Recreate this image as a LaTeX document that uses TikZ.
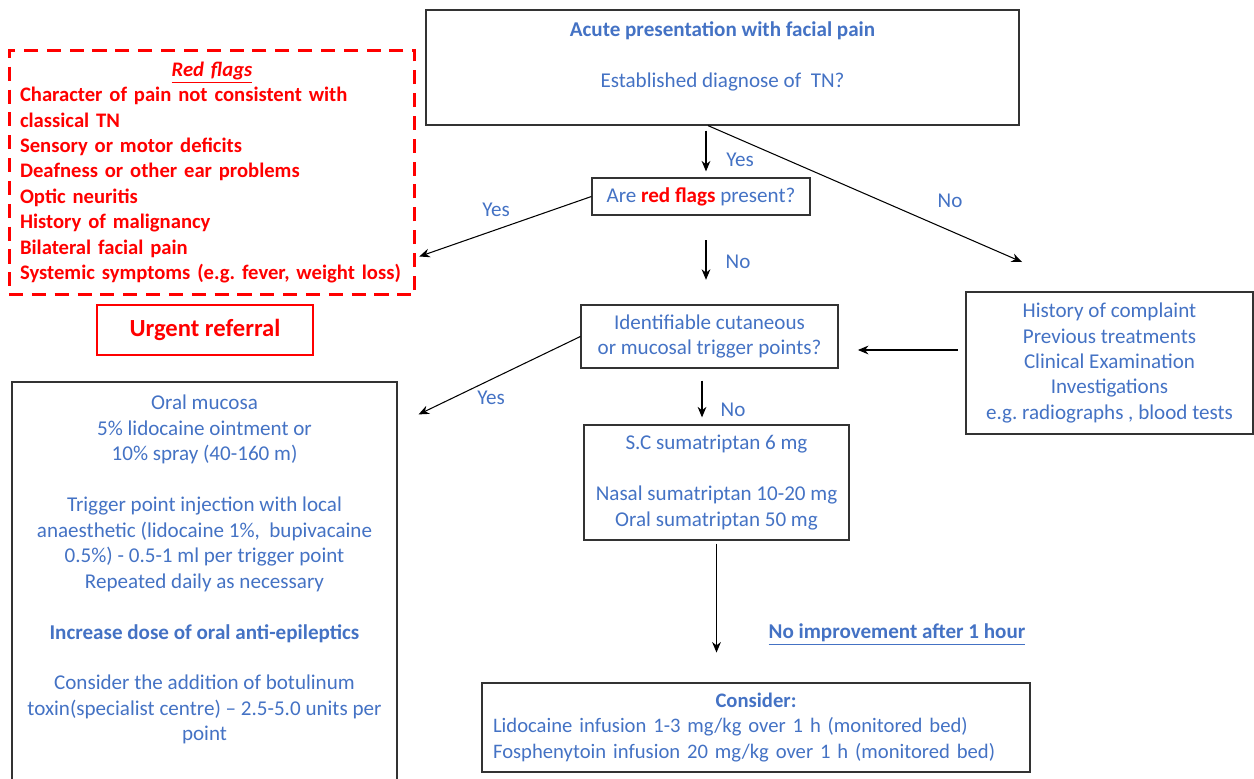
\documentclass[tikz,border=0pt]{standalone}
\usepackage{fontspec}
\setmainfont{Carlito}
\usepackage{xcolor}
\usetikzlibrary{arrows.meta, positioning}
\definecolor{ptblue}{RGB}{68,114,196}
\definecolor{flagred}{RGB}{255,0,0}
\tikzset{
>={Stealth[length=6pt,width=5pt]}, % small filled arrow heads
x=0.02cm, y=-0.02cm, % one unit is one pixel of the drawing, y going down
every node/.style={font=\fontsize{12}{14.5}\selectfont, text=ptblue},
box/.style={draw=black!80, line width=0.7pt, inner sep=0pt, align=center},
flagbox/.style={draw=flagred, line width=1.7pt, dash pattern=on 8pt off 5pt, inner sep=0pt},
arr/.style={->, line width=0.6pt},
lbl/.style={inner sep=0pt},
}

\begin{document}
\frenchspacing
\begin{tikzpicture}
        \useasboundingbox (0,0) rectangle (1254,778);

        % boxes
        \node[box, minimum width=11.86cm, minimum height=2.3cm] (start) at (722.5,67.5)
            {\textbf{Acute presentation with facial pain}\\[14.5pt]Established diagnose of~ TN?\\ \mbox{}};
        \node[flagbox, text width=7.68cm, align=left, minimum width=8.12cm, minimum height=4.9cm,
              text=flagred, font=\fontsize{11.75}{14.5}\selectfont\bfseries] (redflags) at (212,172.5)
            {\makebox[7.68cm][c]{\textit{\underline{Red flags}}}\\
             Character of pain not consistent with\\
             classical TN\\
             Sensory or motor deficits\\
             Deafness or other ear problems\\
             Optic neuritis\\
             History of malignancy\\
             Bilateral facial pain\\
             Systemic symptoms (e.g. fever, weight loss)};
        \node[draw=flagred, line width=0.9pt, inner sep=0pt, minimum width=4.32cm, minimum height=1cm,
              text=flagred, font=\fontsize{14}{17}\selectfont\bfseries] (urgent) at (205,330) {Urgent referral};
        \node[box, minimum width=4.36cm, minimum height=0.74cm] (flagq) at (701,196.5)
            {Are \textcolor{flagred}{\textbf{red flags}} present?};
        \node[box, minimum width=5.14cm, minimum height=1.26cm] (trigger) at (709.5,336.5)
            {Identifiable cutaneous\\or mucosal trigger points?};
        \node[box, minimum width=5.74cm, minimum height=2.84cm] (history) at (1109.5,363)
            {History of complaint\\Previous treatments\\Clinical Examination\\Investigations\\e.g. radiographs , blood tests};
        \node[box, minimum width=5.3cm, minimum height=2.3cm] (suma) at (716.5,482.5)
            {S.C sumatriptan 6 mg\\[14.5pt]Nasal sumatriptan 10-20 mg\\Oral sumatriptan 50 mg};
        \node[box, minimum width=7.7cm, minimum height=8.46cm] (oral) at (204.5,593.5)
            {Oral mucosa\\5\% lidocaine ointment or\\10\% spray (40-160 m)\\[14.5pt]
             Trigger point injection with local\\anaesthetic (lidocaine 1\%,~ bupivacaine\\
             0.5\%) - 0.5-1 ml per trigger point\\Repeated daily as necessary\\[14.5pt]
             \textbf{Increase dose of oral anti-epileptics}\\[14.5pt]
             Consider the addition of botulinum\\toxin(specialist centre) -- 2.5-5.0 units per\\point\\[14.5pt]\mbox{}};
        \node[box, text width=10.52cm, align=left, minimum width=10.96cm, minimum height=1.78cm,
              font=\fontsize{11.75}{14.5}\selectfont] (consider) at (756,727.5)
            {\makebox[10.52cm][c]{\textbf{Consider:}}\\
             Lidocaine infusion 1-3 mg/kg over 1 h (monitored bed)\\
             Fosphenytoin infusion 20 mg/kg over 1 h (monitored bed)};

        % labels
        \node[lbl] (yes1) at (740,160) {Yes};
        \node[lbl] (no1) at (950,201) {No};
        \node[lbl] (yes2) at (496,210) {Yes};
        \node[lbl] (no2) at (738,262) {No};
        \node[lbl] (yes3) at (491,398) {Yes};
        \node[lbl] (no3) at (733,410) {No};
        \node[lbl, font=\fontsize{12}{14.5}\selectfont\bfseries] (noimpr) at (897,635) {\underline{No improvement after 1 hour}};
        \coordinate (noend) at (1022,262);

        % connectors
        \draw[arr, shorten <=2.8pt, shorten >=3.4pt] ([xshift=0.1cm]start.south -| flagq.north) -- ([xshift=0.1cm]flagq.north);
        \draw[arr] ([xshift=-0.29cm]start.south) -- (noend);
        \draw[arr, shorten >=1.7pt] (flagq.west) -- ([yshift=-1.7cm]redflags.east);
        \draw[arr, shorten <=14pt, shorten >=14pt] ([xshift=0.1cm]flagq.south) -- ([xshift=0.1cm]flagq.south |- trigger.north);
        \draw[arr, shorten <=4.5pt, shorten >=11pt] ([yshift=0.26cm]history.west) -- ([yshift=0.26cm]history.west -| trigger.east);
        \draw[arr] (trigger.west) -- ([shift={(0.42cm,-0.66cm)}]oral.north east);
        \draw[arr, shorten <=6.8pt, shorten >=4pt] ([xshift=-0.15cm]trigger.south) -- ([xshift=-0.15cm]trigger.south |- suma.north);
        \draw[arr, shorten <=1.7pt, shorten >=17pt] (suma.south) -- (suma.south |- consider.north);
\end{tikzpicture}
\end{document}
